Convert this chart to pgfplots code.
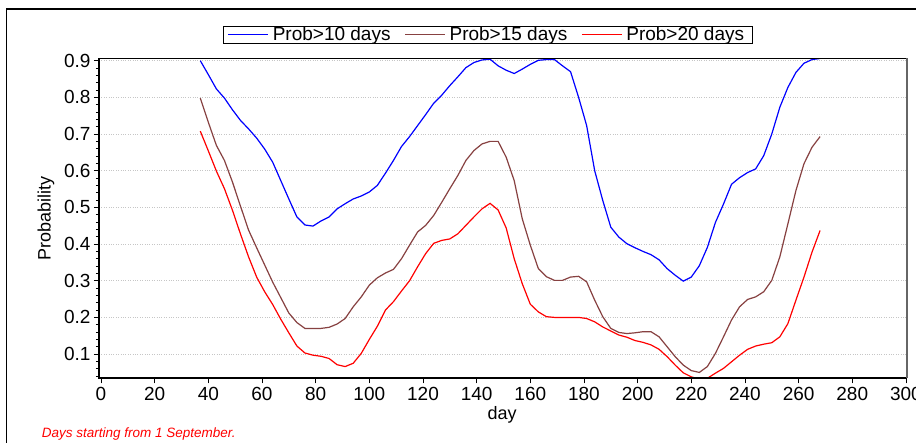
\documentclass[border=0pt]{standalone}
\usepackage{pgfplots}
\pgfplotsset{compat=1.18}
\usepackage{pgfplotstable}
\usepackage{fontspec}
\setmainfont{Liberation Sans}
\definecolor{brownline}{RGB}{135,65,65}

\pgfplotstableread{
day p
37 0.900
40 0.862
43 0.823
46 0.798
49 0.766
52 0.737
55 0.714
58 0.689
61 0.659
64 0.623
67 0.573
70 0.523
73 0.474
76 0.452
79 0.449
82 0.463
85 0.474
88 0.496
91 0.510
94 0.523
97 0.531
100 0.542
103 0.560
106 0.593
109 0.628
112 0.666
115 0.693
118 0.723
121 0.753
124 0.784
127 0.806
130 0.832
133 0.856
136 0.881
139 0.895
142 0.902
145 0.904
148 0.886
151 0.874
154 0.865
157 0.877
160 0.890
163 0.901
166 0.903
169 0.903
172 0.886
175 0.870
178 0.800
181 0.723
184 0.600
187 0.519
190 0.446
193 0.419
196 0.401
199 0.390
202 0.380
205 0.371
208 0.357
211 0.333
214 0.315
217 0.299
220 0.310
223 0.341
226 0.391
229 0.459
232 0.509
235 0.563
238 0.581
241 0.595
244 0.605
247 0.641
250 0.700
253 0.773
256 0.827
259 0.868
262 0.893
265 0.903
268 0.906
}\tblten

\pgfplotstableread{
day p
37 0.798
40 0.732
43 0.669
46 0.628
49 0.569
52 0.503
55 0.438
58 0.390
61 0.343
64 0.296
67 0.254
70 0.212
73 0.186
76 0.170
79 0.170
82 0.170
85 0.173
88 0.182
91 0.197
94 0.229
97 0.256
100 0.288
103 0.308
106 0.321
109 0.331
112 0.360
115 0.397
118 0.433
121 0.451
124 0.478
127 0.514
130 0.551
133 0.587
136 0.628
139 0.655
142 0.673
145 0.680
148 0.680
151 0.637
154 0.573
157 0.469
160 0.397
163 0.333
166 0.311
169 0.301
172 0.301
175 0.310
178 0.312
181 0.297
184 0.247
187 0.202
190 0.170
193 0.159
196 0.156
199 0.158
202 0.161
205 0.161
208 0.147
211 0.120
214 0.093
217 0.070
220 0.055
223 0.050
226 0.066
229 0.102
232 0.147
235 0.193
238 0.229
241 0.249
244 0.256
247 0.270
250 0.301
253 0.365
256 0.455
259 0.546
262 0.619
265 0.664
268 0.693
}\tblfifteen

\pgfplotstableread{
day p
37 0.708
40 0.654
43 0.599
46 0.551
49 0.492
52 0.427
55 0.365
58 0.310
61 0.270
64 0.235
67 0.195
70 0.158
73 0.122
76 0.103
79 0.097
82 0.094
85 0.088
88 0.071
91 0.066
94 0.075
97 0.102
100 0.140
103 0.176
106 0.220
109 0.243
112 0.272
115 0.300
118 0.338
121 0.374
124 0.402
127 0.410
130 0.414
133 0.428
136 0.451
139 0.474
142 0.496
145 0.511
148 0.493
151 0.444
154 0.360
157 0.292
160 0.236
163 0.215
166 0.202
169 0.200
172 0.200
175 0.200
178 0.200
181 0.197
184 0.188
187 0.174
190 0.163
193 0.152
196 0.146
199 0.137
202 0.132
205 0.125
208 0.113
211 0.093
214 0.070
217 0.049
220 0.038
223 0.031
226 0.034
229 0.048
232 0.061
235 0.079
238 0.097
241 0.113
244 0.122
247 0.127
250 0.131
253 0.147
256 0.183
259 0.247
262 0.310
265 0.378
268 0.437
}\tbltwenty

\begin{document}
\begin{tikzpicture}
\path[use as bounding box] (0pt,0pt) rectangle (916pt,443pt);
\fill[white] (0pt,0pt) rectangle (916pt,443pt);
\draw[line width=1.5pt] (6.7pt,-5pt) -- (6.7pt,434pt) -- (930pt,434pt);
\begin{axis}[
  at={(99pt,64.7pt)}, anchor=south west,
  width=808pt, height=320pt, scale only axis,
  xmin=-0.75, xmax=300.4, ymin=0.034, ymax=0.9065,
  clip mode=individual,
  axis line style={draw=none},
  xtick={0,20,...,300},
  ytick={0.1,0.2,0.3,0.4,0.5,0.6,0.7,0.8,0.9},
  minor ytick={0.04,0.06,...,0.90},
  tick align=outside, xtick pos=bottom, ytick pos=left,
  major tick length=5pt, minor tick length=3pt,
  tick style={black, line width=0.8pt},
  ymajorgrids, grid style={gray!45, dotted, line width=0.8pt},
  minor grid style={draw=none},
  /pgf/number format/assume math mode=true,
  yticklabel style={/pgf/number format/fixed, /pgf/number format/precision=1, /pgf/number format/fixed zerofill},
  ticklabel style={font=\fontsize{19}{22}\selectfont},
  xlabel={day}, ylabel={Probability},
  label style={font=\fontsize{18}{21}\selectfont},
  xlabel style={at={(axis description cs:0.4988,-0.115)}, anchor=center},
  ylabel style={at={(axis description cs:-0.0656,0.5)}, anchor=center, rotate=0},
  legend columns=3,
  legend style={at={(0.4814,1.0734)}, anchor=center, draw=black, line width=1.2pt,
    font=\fontsize{19}{22}\selectfont, inner xsep=4pt, inner ysep=0pt,
    nodes={inner ysep=1pt, inner xsep=4pt},
    /tikz/every even column/.style={column sep=10pt}},
  legend image code/.code={\draw[#1, line width=1pt] (0pt,0pt) -- (40pt,0pt);},
]
\addplot[blue, line width=1.2pt] table[x=day, y=p] {\tblten};
\addlegendentry{Prob>10 days}
\addplot[brownline, line width=1.2pt] table[x=day, y=p] {\tblfifteen};
\addlegendentry{Prob>15 days}
\addplot[red, line width=1.2pt] table[x=day, y=p] {\tbltwenty};
\addlegendentry{Prob>20 days}
\draw[black, line width=2pt] (rel axis cs:0,1) -- (rel axis cs:0,0) -- (rel axis cs:1,0);
\draw[black, line width=1pt] (rel axis cs:0,1) -- (rel axis cs:1,1);
\draw[gray!80!black, line width=2pt] (rel axis cs:1,0) -- (rel axis cs:1,1);
\end{axis}
\node[anchor=base west, text=red, font=\fontsize{13.5}{15}\selectfont\itshape, inner sep=0pt] at (41.7pt,5.5pt) {Days starting from 1 September.};
\end{tikzpicture}
\end{document}
